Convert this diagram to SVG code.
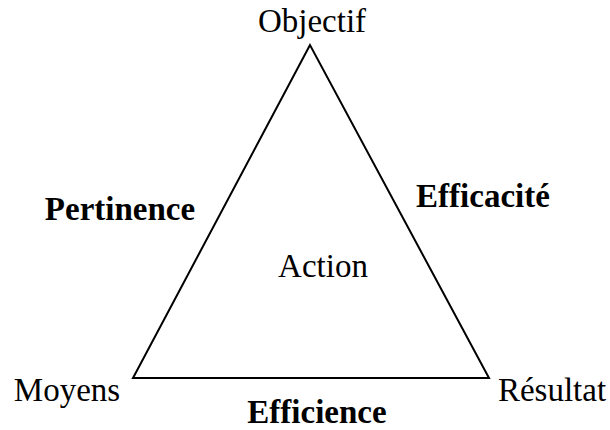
<svg xmlns="http://www.w3.org/2000/svg" width="610" height="430" viewBox="0 0 610 430">
<style>
text{font-family:'Liberation Serif','Times New Roman',serif;font-size:33px;fill:#000}
.b{font-weight:bold}
</style>
<rect width="610" height="430" fill="#fff"/>
<g id="connectors">
<polygon points="310,45 133,378 489,378" fill="none" stroke="#000" stroke-width="2"/>
</g>
<g id="objectif"><text x="312" y="32" text-anchor="middle">Objectif</text></g>
<g id="moyens"><text x="67" y="401" text-anchor="middle">Moyens</text></g>
<g id="resultat"><text x="552" y="401" text-anchor="middle">Résultat</text></g>
<g id="action"><text x="323" y="277" text-anchor="middle">Action</text></g>
<g id="pertinence"><text class="b" x="120" y="220" text-anchor="middle">Pertinence</text></g>
<g id="efficacite"><text class="b" x="483" y="207" text-anchor="middle">Efficacité</text></g>
<g id="efficience"><text class="b" x="317" y="423" text-anchor="middle">Efficience</text></g>
</svg>
